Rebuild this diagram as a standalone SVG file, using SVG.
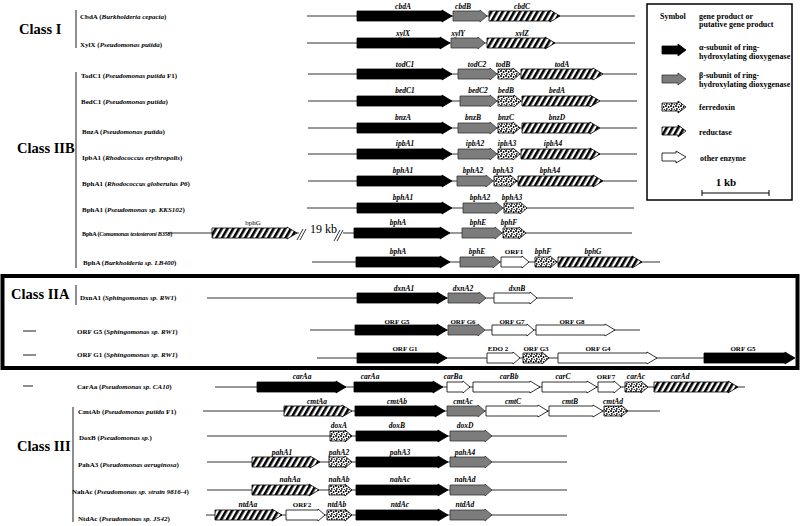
<svg xmlns="http://www.w3.org/2000/svg" width="800" height="526" viewBox="0 0 800 526">
<defs>
<pattern id="hatch" width="5" height="10" patternUnits="userSpaceOnUse" patternTransform="rotate(30)">
<rect width="5" height="10" fill="#fff"/><rect width="2.6" height="10" fill="#000"/>
</pattern>
<pattern id="dots" width="5" height="5" patternUnits="userSpaceOnUse">
<rect width="5" height="5" fill="#fff"/><circle cx="1" cy="1" r="1" fill="#000"/><circle cx="3.6" cy="2" r="0.9" fill="#000"/><circle cx="1.8" cy="3.9" r="0.9" fill="#000"/><circle cx="4.3" cy="4.4" r="0.6" fill="#000"/>
</pattern>
</defs>
<style>
text{font-family:"Liberation Serif","Times New Roman",serif;font-weight:bold;fill:#000}
.sp{font-size:7px}
.it{font-style:italic}
.gl{font-size:7.5px;font-style:italic;text-anchor:middle}
.ol{font-size:7px;text-anchor:middle}
.cls{font-size:14.5px}
.lg{font-size:8px}
.a{fill:#000;stroke:#000;stroke-width:0.8}
.b{fill:#7c7c7c;stroke:#333;stroke-width:0.8}
.f{fill:url(#dots);stroke:#000;stroke-width:0.8}
.r{fill:url(#hatch);stroke:#000;stroke-width:0.8}
.o{fill:#fff;stroke:#000;stroke-width:0.8}
.ln{stroke:#333;stroke-width:1;fill:none}
.bar{stroke:#444;stroke-width:1.2;fill:none}
</style>
<rect width="800" height="526" fill="#fff"/>

<g id="class-labels">
<text class="cls" x="19" y="34">Class  I</text>
<text class="cls" x="17" y="153">Class  IIB</text>
<text class="cls" x="11" y="299">Class  IIA</text>
<text class="cls" x="17" y="451">Class  III</text>
<line class="bar" x1="76" y1="10" x2="76" y2="48"/>
<line class="bar" x1="76" y1="72" x2="76" y2="268"/>
<line class="bar" x1="76" y1="285" x2="76" y2="305"/>
<line class="bar" x1="73" y1="407" x2="73" y2="522"/>
<line class="bar" x1="23" y1="331" x2="36" y2="331"/>
<line class="bar" x1="23" y1="355" x2="36" y2="355"/>
<line class="bar" x1="23" y1="386" x2="33" y2="386"/>
</g>

<rect id="class-iia-box" x="2.5" y="276" width="795" height="92" fill="none" stroke="#000" stroke-width="4"/>

<g id="connectors">
<line class="ln" x1="307" y1="16" x2="635" y2="16"/>
<line class="ln" x1="307" y1="43" x2="635" y2="43"/>
<line class="ln" x1="308" y1="74" x2="637" y2="74"/>
<line class="ln" x1="308" y1="101" x2="637" y2="101"/>
<line class="ln" x1="308" y1="128" x2="637" y2="128"/>
<line class="ln" x1="308" y1="154" x2="637" y2="154"/>
<line class="ln" x1="308" y1="181" x2="637" y2="181"/>
<line class="ln" x1="307" y1="208" x2="634" y2="208"/>
<line class="ln" x1="168" y1="233" x2="632" y2="233"/>
<line class="ln" x1="312" y1="262" x2="660" y2="262"/>
<line class="ln" x1="207" y1="298" x2="573" y2="298"/>
<line class="ln" x1="310" y1="330" x2="640" y2="330"/>
<line class="ln" x1="317" y1="358" x2="704" y2="358"/>
<line class="ln" x1="215" y1="387" x2="745" y2="387"/>
<line class="ln" x1="203" y1="411" x2="660" y2="411"/>
<line class="ln" x1="207" y1="436" x2="567" y2="436"/>
<line class="ln" x1="207" y1="462" x2="567" y2="462"/>
<line class="ln" x1="207" y1="490" x2="567" y2="490"/>
<line class="ln" x1="206" y1="515" x2="567" y2="515"/>
</g>

<g id="row-cbda">
<text class="sp" x="80" y="19">CbdA (<tspan class="it">Burkholderia cepacia</tspan>)</text>
<polygon class="a" points="357,11 442,11 442,10 452,16 442,22 442,21 357,21"/>
<polygon class="b" points="453,11 480,11 480,10 487,16 480,22 480,21 453,21"/>
<polygon class="r" points="489,11 550,11 550,10 560,16 550,22 550,21 489,21"/>
<text class="gl" x="403" y="9">cbdA</text><text class="gl" x="463" y="9">cbdB</text><text class="gl" x="522" y="9">cbdC</text>
</g>

<g id="row-xylx">
<text class="sp" x="80" y="47">XylX (<tspan class="it">Pseudomonas putida</tspan>)</text>
<polygon class="a" points="357,38 440,38 440,37 450,43 440,49 440,48 357,48"/>
<polygon class="b" points="451,38 478,38 478,37 485,43 478,49 478,48 451,48"/>
<polygon class="r" points="487,38 545,38 545,37 555,43 545,49 545,48 487,48"/>
<text class="gl" x="403" y="36">xylX</text><text class="gl" x="458" y="36">xylY</text><text class="gl" x="522" y="36">xylZ</text>
</g>

<g id="row-todc1">
<text class="sp" x="81" y="78">TodC1 (<tspan class="it">Pseudomonas putida</tspan>  F1)</text>
<polygon class="a" points="357,69 442,69 442,68 452,74 442,80 442,79 357,79"/>
<polygon class="b" points="458,69 490,69 490,68 497,74 490,80 490,79 458,79"/>
<polygon class="f" points="498,69 513,69 513,68 520,74 513,80 513,79 498,79"/>
<polygon class="r" points="521,69 593,69 593,68 603,74 593,80 593,79 521,79"/>
<text class="gl" x="405" y="67">todC1</text><text class="gl" x="477" y="67">todC2</text><text class="gl" x="503" y="67">todB</text><text class="gl" x="562" y="67">todA</text>
</g>

<g id="row-bedc1">
<text class="sp" x="81" y="103.5">BedC1 (<tspan class="it">Pseudomonas putida</tspan>)</text>
<polygon class="a" points="357,96 442,96 442,95 452,101 442,107 442,106 357,106"/>
<polygon class="b" points="460,96 490,96 490,95 497,101 490,107 490,106 460,106"/>
<polygon class="f" points="498,96 514,96 514,95 521,101 514,107 514,106 498,106"/>
<polygon class="r" points="522,96 590,96 590,95 600,101 590,107 590,106 522,106"/>
<text class="gl" x="405" y="93">bedC1</text><text class="gl" x="478" y="93">bedC2</text><text class="gl" x="506" y="93">bedB</text><text class="gl" x="557" y="93">bedA</text>
</g>

<g id="row-bnza">
<text class="sp" x="82" y="134">BnzA (<tspan class="it">Pseudomonas putida</tspan>)</text>
<polygon class="a" points="357,123 442,123 442,122 452,128 442,134 442,133 357,133"/>
<polygon class="b" points="458,123 490,123 490,122 497,128 490,134 490,133 458,133"/>
<polygon class="f" points="498,123 513,123 513,122 520,128 513,134 513,133 498,133"/>
<polygon class="r" points="522,123 590,123 590,122 600,128 590,134 590,133 522,133"/>
<text class="gl" x="403" y="120">bnzA</text><text class="gl" x="473" y="120">bnzB</text><text class="gl" x="506" y="120">bnzC</text><text class="gl" x="557" y="120">bnzD</text>
</g>

<g id="row-ipba1">
<text class="sp" x="82" y="160">IpbA1 (<tspan class="it">Rhodococcus erythropolis</tspan>)</text>
<polygon class="a" points="357,149 442,149 442,148 452,154 442,160 442,159 357,159"/>
<polygon class="b" points="458,149 490,149 490,148 497,154 490,160 490,159 458,159"/>
<polygon class="f" points="498,149 513,149 513,148 520,154 513,160 513,159 498,159"/>
<polygon class="r" points="521,149 590,149 590,148 600,154 590,160 590,159 521,159"/>
<text class="gl" x="405" y="146">ipbA1</text><text class="gl" x="475" y="146">ipbA2</text><text class="gl" x="507" y="146">ipbA3</text><text class="gl" x="553" y="146">ipbA4</text>
</g>

<g id="row-bpha1-p6">
<text class="sp" x="82" y="186">BphA1 (<tspan class="it">Rhodococcus globerulus P6</tspan>)</text>
<polygon class="a" points="357,176 442,176 442,175 452,181 442,187 442,186 357,186"/>
<polygon class="b" points="457,176 486,176 486,175 493,181 486,187 486,186 457,186"/>
<polygon class="f" points="494,176 510,176 510,175 517,181 510,187 510,186 494,186"/>
<polygon class="r" points="518,176 593,176 593,175 603,181 593,187 593,186 518,186"/>
<text class="gl" x="403" y="173">bphA1</text><text class="gl" x="473" y="173">bphA2</text><text class="gl" x="503" y="173">bphA3</text><text class="gl" x="550" y="173">bphA4</text>
</g>

<g id="row-bpha1-kks102">
<text class="sp" x="82" y="212">BphA1 (<tspan class="it">Pseudomonas sp. KKS102</tspan>)</text>
<polygon class="a" points="357,203 442,203 442,202 452,208 442,214 442,213 357,213"/>
<polygon class="b" points="463,203 496,203 496,202 503,208 496,214 496,213 463,213"/>
<polygon class="f" points="504,203 520,203 520,202 527,208 520,214 520,213 504,213"/>
<text class="gl" x="403" y="200">bphA1</text><text class="gl" x="480" y="200">bphA2</text><text class="gl" x="512" y="200">bphA3</text>
</g>

<g id="row-bpha-b356">
<text class="sp" x="82" y="236" style="font-size:6.2px;letter-spacing:-0.25px">BphA (<tspan class="it">Comamonas testosteroni B356</tspan>)</text>
<polygon class="r" points="212,228 287,228 287,227 297,233 287,239 287,238 212,238"/>
<text x="253" y="225" style="font-size:7px;font-weight:normal;text-anchor:middle">bphG</text>
<rect x="299" y="229" width="44" height="8" fill="#fff"/>
<line class="ln" x1="297" y1="240" x2="303" y2="229"/>
<line class="ln" x1="300" y1="240" x2="306" y2="229"/>
<line class="ln" x1="334" y1="241" x2="340" y2="230"/>
<line class="ln" x1="337" y1="241" x2="343" y2="230"/>
<text x="310" y="233" style="font-size:12px;font-weight:normal">19 kb</text>
<polygon class="a" points="354,228 440,228 440,227 450,233 440,239 440,238 354,238"/>
<polygon class="b" points="462,228 495,228 495,227 502,233 495,239 495,238 462,238"/>
<polygon class="f" points="503,228 519,228 519,227 526,233 519,239 519,238 503,238"/>
<text class="gl" x="398" y="225">bphA</text><text class="gl" x="478" y="225">bphE</text><text class="gl" x="509" y="225">bphF</text>
</g>

<g id="row-bpha-lb400">
<text class="sp" x="83" y="265">BphA (<tspan class="it">Burkholderia sp. LB400</tspan>)</text>
<polygon class="a" points="356,257 440,257 440,256 450,262 440,268 440,267 356,267"/>
<polygon class="b" points="460,257 493,257 493,256 500,262 493,268 493,267 460,267"/>
<polygon class="o" points="501,257 522,257 522,256 529,262 522,268 522,267 501,267"/>
<polygon class="f" points="535,257 550,257 550,256 557,262 550,268 550,267 535,267"/>
<polygon class="r" points="558,257 632,257 632,256 642,262 632,268 632,267 558,267"/>
<text class="gl" x="398" y="254">bphA</text><text class="gl" x="477" y="254">bphE</text><text class="ol" x="514" y="254">ORF1</text><text class="gl" x="543" y="254">bphF</text><text class="gl" x="593" y="254">bphG</text>
</g>

<g id="row-dxna1">
<text class="sp" x="80" y="300">DxnA1 (<tspan class="it">Sphingomonas sp. RW1</tspan>)</text>
<polygon class="a" points="357,293 437,293 437,292 447,298 437,304 437,303 357,303"/>
<polygon class="b" points="448,293 479,293 479,292 486,298 479,304 479,303 448,303"/>
<polygon class="o" points="494,293 530,293 530,292 537,298 530,304 530,303 494,303"/>
<text class="gl" x="404" y="291">dxnA1</text><text class="gl" x="463" y="291">dxnA2</text><text class="gl" x="517" y="291">dxnB</text>
</g>

<g id="row-orfg5">
<text class="sp" x="77" y="334">ORF G5 (<tspan class="it">Sphingomonas sp. RW1</tspan>)</text>
<polygon class="a" points="355,325 437,325 437,324 447,330 437,336 437,335 355,335"/>
<polygon class="b" points="448,325 478,325 478,324 485,330 478,336 478,335 448,335"/>
<polygon class="o" points="492,325 527,325 527,324 534,330 527,336 527,335 492,335"/>
<polygon class="o" points="536,325 605,325 605,324 615,330 605,336 605,335 536,335"/>
<text class="ol" x="397" y="324">ORF G5</text><text class="ol" x="463" y="324">ORF G6</text><text class="ol" x="512" y="324">ORF G7</text><text class="ol" x="572" y="324">ORF G8</text>
</g>

<g id="row-orfg1">
<text class="sp" x="77" y="357">ORF G1 (<tspan class="it">Sphingomonas sp. RW1</tspan>)</text>
<polygon class="a" points="357,353 437,353 437,352 447,358 437,364 437,363 357,363"/>
<polygon class="o" points="487,353 513,353 513,352 520,358 513,364 513,363 487,363"/>
<polygon class="f" points="523,353 542,353 542,352 549,358 542,364 542,363 523,363"/>
<polygon class="o" points="558,353 647,353 647,352 657,358 647,364 647,363 558,363"/>
<polygon class="a" points="704,353 785,353 785,352 795,358 785,364 785,363 704,363"/>
<text class="ol" x="405" y="351">ORF G1</text><text class="ol" x="498" y="351">EDO 2</text><text class="ol" x="536" y="351">ORF G3</text><text class="ol" x="598" y="351">ORF G4</text><text class="ol" x="743" y="351">ORF G5</text>
</g>

<g id="row-caraa">
<text class="sp" x="77" y="389">CarAa (<tspan class="it">Pseudomonas sp. CA10</tspan>)</text>
<polygon class="a" points="257,382 336,382 336,381 346,387 336,393 336,392 257,392"/>
<polygon class="a" points="354,382 433,382 433,381 443,387 433,393 433,392 354,392"/>
<polygon class="o" points="447,382 463,382 463,381 470,387 463,393 463,392 447,392"/>
<polygon class="o" points="473,382 530,382 530,381 540,387 530,393 530,392 473,392"/>
<polygon class="o" points="542,382 587,382 587,381 597,387 587,393 587,392 542,392"/>
<polygon class="o" points="598,382 614,382 614,381 621,387 614,393 614,392 598,392"/>
<polygon class="f" points="625,382 641,382 641,381 648,387 641,393 641,392 625,392"/>
<polygon class="r" points="654,382 728,382 728,381 738,387 728,393 728,392 654,392"/>
<text class="gl" x="302" y="379">carAa</text><text class="gl" x="370" y="379">carAa</text><text class="gl" x="453" y="379">carBa</text><text class="gl" x="509" y="379">carBb</text><text class="gl" x="563" y="379">carC</text><text class="ol" x="606" y="379">ORF7</text><text class="gl" x="636" y="379">carAc</text><text class="gl" x="680" y="379">carAd</text>
</g>

<g id="row-cmtab">
<text class="sp" x="78" y="414">CmtAb (<tspan class="it">Pseudomonas putida</tspan> F1)</text>
<polygon class="r" points="284,406 342,406 342,405 352,411 342,417 342,416 284,416"/>
<polygon class="a" points="355,406 435,406 435,405 445,411 435,417 435,416 355,416"/>
<polygon class="b" points="447,406 478,406 478,405 485,411 478,417 478,416 447,416"/>
<polygon class="o" points="486,406 538,406 538,405 548,411 538,417 538,416 486,416"/>
<polygon class="o" points="549,406 593,406 593,405 603,411 593,417 593,416 549,416"/>
<polygon class="f" points="604,406 621,406 621,405 628,411 621,417 621,416 604,416"/>
<text class="gl" x="317" y="404">cmtAa</text><text class="gl" x="397" y="404">cmtAb</text><text class="gl" x="463" y="404">cmtAc</text><text class="gl" x="513" y="404">cmtC</text><text class="gl" x="570" y="404">cmtB</text><text class="gl" x="613" y="404">cmtAd</text>
</g>

<g id="row-doxb">
<text class="sp" x="79" y="440">DoxB (<tspan class="it">Pseudomonas sp.</tspan>)</text>
<polygon class="f" points="330,431 345,431 345,430 352,436 345,442 345,441 330,441"/>
<polygon class="a" points="356,431 438,431 438,430 448,436 438,442 438,441 356,441"/>
<polygon class="b" points="450,431 485,431 485,430 492,436 485,442 485,441 450,441"/>
<text class="gl" x="339" y="428">doxA</text><text class="gl" x="397" y="428">doxB</text><text class="gl" x="465" y="428">doxD</text>
</g>

<g id="row-paha3">
<text class="sp" x="78" y="467">PahA3 (<tspan class="it">Pseudomonas aeruginosa</tspan>)</text>
<polygon class="r" points="252,457 310,457 310,456 320,462 310,468 310,467 252,467"/>
<polygon class="f" points="329,457 345,457 345,456 352,462 345,468 345,467 329,467"/>
<polygon class="a" points="356,457 438,457 438,456 448,462 438,468 438,467 356,467"/>
<polygon class="b" points="450,457 485,457 485,456 492,462 485,468 485,467 450,467"/>
<text class="gl" x="282" y="455">pahA1</text><text class="gl" x="339" y="455">pahA2</text><text class="gl" x="400" y="455">pahA3</text><text class="gl" x="465" y="455">pahA4</text>
</g>

<g id="row-nahac">
<text class="sp" x="72" y="494">NahAc (<tspan class="it">Pseudomonas sp. strain 9816-4</tspan>)</text>
<polygon class="r" points="252,485 309,485 309,484 319,490 309,496 309,495 252,495"/>
<polygon class="f" points="329,485 345,485 345,484 352,490 345,496 345,495 329,495"/>
<polygon class="a" points="356,485 438,485 438,484 448,490 438,496 438,495 356,495"/>
<polygon class="b" points="450,485 485,485 485,484 492,490 485,496 485,495 450,495"/>
<text class="gl" x="290" y="482">nahAa</text><text class="gl" x="339" y="482">nahAb</text><text class="gl" x="400" y="482">nahAc</text><text class="gl" x="465" y="482">nahAd</text>
</g>

<g id="row-ntdac">
<text class="sp" x="78" y="521">NtdAc (<tspan class="it">Pseudomonas sp. JS42</tspan>)</text>
<polygon class="r" points="215,510 272,510 272,509 282,515 272,521 272,520 215,520"/>
<polygon class="o" points="286,510 318,510 318,509 325,515 318,521 318,520 286,520"/>
<polygon class="f" points="327,510 345,510 345,509 352,515 345,521 345,520 327,520"/>
<polygon class="a" points="356,510 438,510 438,509 448,515 438,521 438,520 356,520"/>
<polygon class="b" points="450,510 485,510 485,509 492,515 485,521 485,520 450,520"/>
<text class="gl" x="248" y="507">ntdAa</text><text class="ol" x="302" y="507">ORF2</text><text class="gl" x="337" y="507">ntdAb</text><text class="gl" x="400" y="507">ntdAc</text><text class="gl" x="465" y="507">ntdAd</text>
</g>

<g id="legend">
<rect x="647" y="4" width="145" height="196" fill="#fff" stroke="#000" stroke-width="1.5"/>
<text class="lg" x="660" y="19">Symbol</text>
<text class="lg" x="699" y="19">gene product or</text>
<text class="lg" x="699" y="27">putative gene product</text>
<polygon class="a" points="662,46 678,46 678,44 686,50 678,56 678,54 662,54"/>
<text class="lg" x="699" y="50">α-subunit of ring-</text>
<text class="lg" x="699" y="58.5">hydroxylating dioxygenase</text>
<polygon class="b" points="662,75 678,75 678,73 686,79 678,85 678,83 662,83"/>
<text class="lg" x="699" y="78">β-subunit of ring-</text>
<text class="lg" x="699" y="87">hydroxylating dioxygenase</text>
<polygon class="f" points="662,103 678,103 678,101 686,107 678,113 678,111 662,111"/>
<text class="lg" x="699" y="110">ferredoxin</text>
<polygon class="r" points="662,127 678,127 678,125 686,131 678,137 678,135 662,135"/>
<text class="lg" x="699" y="135">reductase</text>
<polygon class="o" points="662,153 676,153 676,151 686,157 676,163 676,161 662,161"/>
<text class="lg" x="700" y="161">other enzyme</text>
<text x="726" y="186" style="font-size:11px;text-anchor:middle">1 kb</text>
<line x1="702" y1="193" x2="769" y2="193" stroke="#000" stroke-width="1"/>
<line x1="702" y1="190" x2="702" y2="196" stroke="#000" stroke-width="1"/>
<line x1="769" y1="190" x2="769" y2="196" stroke="#000" stroke-width="1"/>
</g>
</svg>
